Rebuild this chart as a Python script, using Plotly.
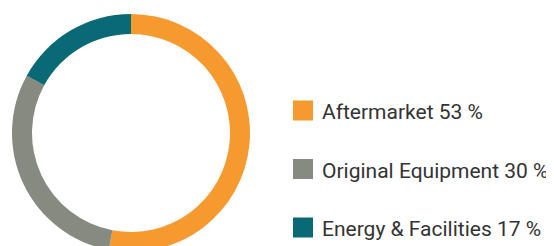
import plotly.graph_objects as go

categories = ["Aftermarket", "Original Equipment", "Energy & Facilities"]
shares = [53, 30, 17]
colors = ["#F6992E", "#878A80", "#096A76"]
legend_labels = [f"{c} {v} %" for c, v in zip(categories, shares)]

W, H = 554, 262

fig = go.Figure()

fig.add_trace(go.Pie(
    labels=categories,
    values=shares,
    sort=False,
    direction="clockwise",
    rotation=0,
    hole=0.832,
    marker=dict(colors=colors, line=dict(width=0)),
    textinfo="none",
    hoverinfo="label+percent",
    domain=dict(x=[4 / W, 242 / W], y=[18 / H, 256 / H]),
    showlegend=False,
))

rows = list(range(len(categories)))

fig.add_trace(go.Scatter(
    x=[0] * len(categories),
    y=rows,
    mode="markers",
    marker=dict(symbol="square", size=20, color=colors, line=dict(width=0)),
    hoverinfo="skip",
    showlegend=False,
))

fig.add_trace(go.Scatter(
    x=[19] * len(categories),
    y=[r + 0.06 for r in rows],
    mode="text",
    text=legend_labels,
    textposition="middle right",
    textfont=dict(family="Roboto", size=21, color="#333333"),
    hoverinfo="skip",
    showlegend=False,
))

fig.update_layout(
    width=W, height=H,
    margin=dict(l=0, r=0, t=0, b=0),
    paper_bgcolor="white",
    plot_bgcolor="rgba(0,0,0,0)",
    xaxis=dict(domain=[0, 1], range=[-295, 259], visible=False, fixedrange=True),
    yaxis=dict(domain=[0, 1], range=[2 + 42.5 / 58.5, -102.5 / 58.5], visible=False, fixedrange=True),
)

fig.write_html("out.html")
